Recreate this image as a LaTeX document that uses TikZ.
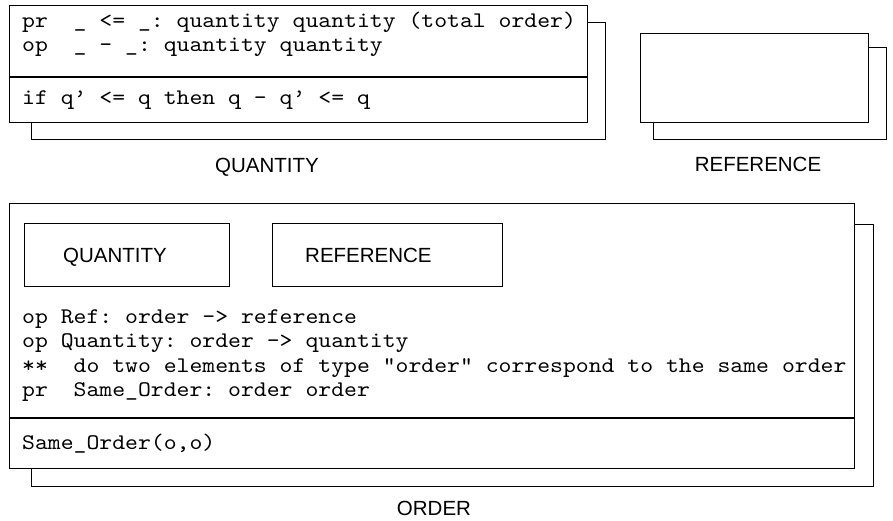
\documentclass[tikz,border=0pt]{standalone}
\usepackage{fontspec}
\setmainfont{Liberation Sans}
\setmonofont[FakeStretch=1.1]{lmmono10-regular.otf}
\tikzset{
  boxframe/.style={draw, line width=1.4pt, fill=white, inner sep=0pt, anchor=north west},
  code/.style={font=\ttfamily\fontsize{22.3}{26}\selectfont, anchor=base west, inner sep=0pt},
  lbl/.style={font=\fontsize{20.5}{24}\selectfont, anchor=base, inner sep=0pt},
  inlbl/.style={font=\fontsize{20.5}{24}\selectfont, anchor=base west, inner sep=0pt},
  sepline/.style={line width=1.4pt},
}
\begin{document}
\begin{tikzpicture}[x=1pt, y=-1pt]
\useasboundingbox (0,0) rectangle (893,520);
% QUANTITY
\node[boxframe, minimum width=574pt, minimum height=117pt] (qshadow) at (31,22) {};
\node[boxframe, minimum width=578pt, minimum height=117pt] (qfront) at (9,5) {};
\draw[sepline] (qfront.west |- 0,77) coordinate (qs1) -- (qfront.east |- 0,77) coordinate (qs2);
\node[code] (q1) at (22,27) {pr\ \ \_ <= \_: quantity quantity (total order)};
\node[code] (q2) at (22,51) {op\ \ \_ - \_: quantity quantity};
\node[code] (q3) at (22,104) {if q’ <= q then q - q’ <= q};
\node[lbl] (qlabel) at (267,172) {QUANTITY};
% REFERENCE
\node[boxframe, minimum width=233pt, minimum height=92pt] (rshadow) at (653,47) {};
\node[boxframe, minimum width=228pt, minimum height=89pt] (rfront) at (640,33) {};
\node[lbl] (rlabel) at (758,171) {REFERENCE};
% ORDER
\node[boxframe, minimum width=842pt, minimum height=262pt] (oshadow) at (31,224) {};
\node[boxframe, minimum width=845pt, minimum height=265pt] (ofront) at (9,203) {};
\draw[sepline] (ofront.west |- 0,418) coordinate (os1) -- (ofront.east |- 0,418) coordinate (os2);
\node[boxframe, minimum width=205pt, minimum height=63pt] (iq) at (24,223) {};
\node[boxframe, minimum width=230pt, minimum height=63pt] (ir) at (272,223) {};
\node[inlbl] (iqt) at (63,262) {QUANTITY};
\node[inlbl] (irt) at (305,262) {REFERENCE};
\node[code] (o1) at (22,323) {op Ref: order -> reference};
\node[code] (o2) at (22,347.5) {op Quantity: order -> quantity};
\node[code] (o3) at (22,372) {**\ \ do two elements of type "order" correspond to the same order};
\node[code] (o4) at (22,396.5) {pr\ \ Same\_Order: order order};
\node[code] (o5) at (22,449) {Same\_Order(o,o)};
\node[lbl] (olabel) at (434,515) {ORDER};
\end{tikzpicture}
\end{document}
